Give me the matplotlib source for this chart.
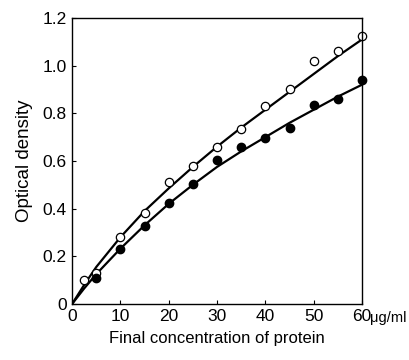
import matplotlib.pyplot as plt

plt.rcParams['font.family'] = ['Liberation Sans Narrow', 'Liberation Sans', 'DejaVu Sans']

x_open = [2.5, 5, 10, 15, 20, 25, 30, 35, 40, 45, 50, 55, 60]
y_open = [0.10, 0.13, 0.28, 0.38, 0.51, 0.58, 0.66, 0.735, 0.83, 0.90, 1.02, 1.06, 1.125]

x_fill = [5, 10, 15, 20, 25, 30, 35, 40, 45, 50, 55, 60]
y_fill = [0.11, 0.23, 0.325, 0.425, 0.505, 0.605, 0.66, 0.695, 0.74, 0.835, 0.86, 0.94]

# drawn curves
x_curve = [0, 2.5, 5, 10, 15, 20, 25, 30, 35, 40, 45, 50, 55, 60]
y_curve_open = [0, 0.08, 0.155, 0.28, 0.39, 0.485, 0.575, 0.66, 0.74, 0.815, 0.89, 0.965, 1.04, 1.11]
y_curve_fill = [0, 0.065, 0.125, 0.232, 0.33, 0.42, 0.50, 0.575, 0.64, 0.70, 0.76, 0.815, 0.87, 0.92]

x_ticks = [0, 10, 20, 30, 40, 50, 60]
y_ticks = [0, 0.2, 0.4, 0.6, 0.8, 1.0, 1.2]
y_ticklabels = ['0', '0.2', '0.4', '0.6', '0.8', '1.0', '1.2']

fig = plt.figure(figsize=(4.1, 3.6), dpi=100)
ax = fig.add_axes([0.176, 0.156, 0.707, 0.794])

ax.plot(x_curve, y_curve_open, color='black', lw=1.6)
ax.plot(x_curve, y_curve_fill, color='black', lw=1.6)
ax.plot(x_open, y_open, 'o', mfc='white', mec='black', mew=0.9, ms=6, clip_on=False)
ax.plot(x_fill, y_fill, 'o', mfc='black', mec='black', ms=6, clip_on=False)

ax.set_xlim(0, 60)
ax.set_ylim(0, 1.2)
ax.set_xticks(x_ticks)
ax.set_xticklabels([str(t) for t in x_ticks])
ax.set_yticks(y_ticks)
ax.set_yticklabels(y_ticklabels)
ax.tick_params(direction='in', length=3, width=0.8, labelsize=12.5, pad=4)
ax.annotate('μg/ml', xy=(60, 0), xycoords='data', xytext=(6, -5),
            textcoords='offset points', ha='left', va='top', fontsize=10.5)

for s in ax.spines.values():
    s.set_linewidth(1.0)

ax.set_xlabel('Final concentration of protein', fontsize=12, labelpad=5)
ax.set_ylabel('Optical density', fontsize=13.5, labelpad=7)

fig.savefig('out.png', dpi=100)
